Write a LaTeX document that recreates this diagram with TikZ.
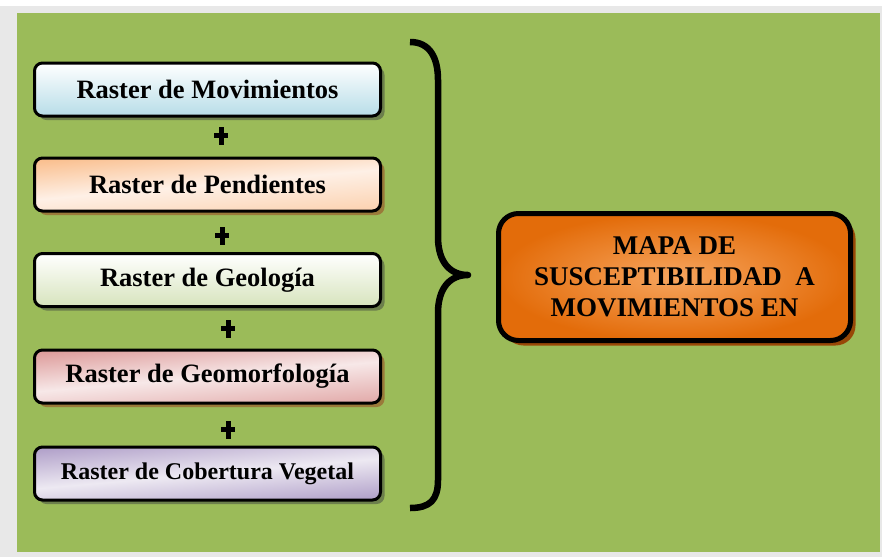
\documentclass[tikz,border=0pt]{standalone}
\usepackage{fontspec}
\setmainfont{Liberation Serif}
\usetikzlibrary{shadows}
\definecolor{bggray}{HTML}{E8E8E8}
\definecolor{bggreen}{HTML}{9BBB59}
\definecolor{cblue}{HTML}{B7DDE8}
\definecolor{corange}{HTML}{FAC090}
\definecolor{corangelt}{HTML}{FEF0E6}
\definecolor{cgreen}{HTML}{D7E4BD}
\definecolor{cpink}{HTML}{DE9E9D}
\definecolor{cpinklt}{HTML}{F7E8E8}
\definecolor{cviolet}{HTML}{B3A3CB}
\definecolor{cvioletlt}{HTML}{EDE9F2}
\definecolor{shgreen}{HTML}{6C7F4C}
\definecolor{shbrown}{HTML}{9A7A3A}
\definecolor{orin}{HTML}{F7A55E}
\definecolor{orout}{HTML}{E36C0A}
\definecolor{orshadow}{HTML}{984807}
\begin{document}
\begin{tikzpicture}[x=1pt,y=-1pt,
  rbox/.style={draw=black, line width=3pt, rounded corners=8pt,
    minimum width=346pt, minimum height=53pt, inner sep=0pt,
    font=\bfseries\fontsize{26.5}{30}\selectfont},
  shA/.style={drop shadow={shadow xshift=4pt,shadow yshift=-4pt,fill=shgreen,opacity=1}},
  shB/.style={drop shadow={shadow xshift=4pt,shadow yshift=-4pt,fill=shbrown,opacity=1}},
  mapbox/.style={draw=black, line width=5pt, rounded corners=20pt,
    minimum width=352pt, minimum height=127pt, inner sep=0pt, align=center,
    inner color=orin, outer color=orout,
    drop shadow={shadow xshift=5pt,shadow yshift=-5pt,fill=orshadow,opacity=1},
    font=\bfseries\fontsize{27}{31}\selectfont},
  bracestyle/.style={line width=6.5pt, line join=round},
  plussign/.pic={\fill (-2.5,-9) rectangle (2.5,9); \fill (-7,-3.5) rectangle (7,1.5);}
]
\useasboundingbox (0,0) rectangle (882,557);
\fill[white] (0,0) rectangle (882,557);
\fill[bggray] (0,6) rectangle (882,557);
\fill[bggreen] (17,13) rectangle (880,552);

\node[rbox, shA, top color=white, bottom color=cblue] (b1) at (207.5,89.5) {Raster de Movimientos};
\node[rbox, shB, top color=corange, bottom color=corange!60!corangelt, middle color=corangelt, shading angle=5] (b2) at (207.5,184.5) {Raster de Pendientes};
\node[rbox, shA, top color=white, bottom color=cgreen] (b3) at (207.5,280) {Raster de Geología};
\node[rbox, shB, top color=cpink, bottom color=cpink!80!cpinklt, middle color=cpinklt, shading angle=5] (b4) at (207.5,376.5) {Raster de Geomorfología};
\node[rbox, shA, top color=cviolet, bottom color=cviolet, middle color=cvioletlt, shading angle=5, font=\bfseries\fontsize{24}{28}\selectfont] (b5) at (207.5,473.5) {Raster de Cobertura Vegetal};

\pic at (221,136) {plussign};
\pic at (222,236) {plussign};
\pic at (228,329) {plussign};
\pic at (228,430) {plussign};

\draw[bracestyle] (410,42) .. controls (430,42) and (438,58) .. (438,80) -- (438,237)
  .. controls (438,262) and (450,275) .. (468,275)
  .. controls (450,275) and (438,288) .. (438,313) -- (438,480)
  .. controls (438,500) and (430,508) .. (410,508);

\node[mapbox] (map) at (674.5,277) {MAPA DE\\SUSCEPTIBILIDAD\ \ A\\MOVIMIENTOS EN};
\end{tikzpicture}
\end{document}
